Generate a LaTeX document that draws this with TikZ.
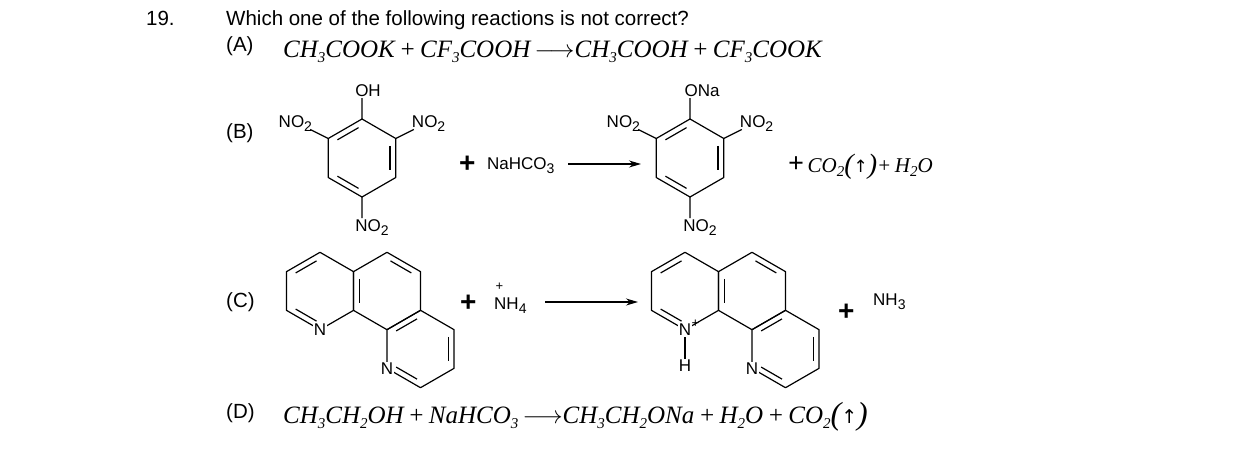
\documentclass[tikz,border=0pt]{standalone}
\usepackage{fontspec}
\setmainfont{Liberation Sans}
\newfontfamily\eqf{Liberation Serif}
\usetikzlibrary{calc,arrows.meta}
\newcommand{\mysb}[1]{\raisebox{-0.45ex}{\fontsize{15}{15}\selectfont #1}}
\newcommand{\lsb}[1]{\raisebox{-0.45ex}{\fontsize{14}{14}\selectfont #1}}
\newcommand{\mkring}[4]{% name cx cy r
  \foreach \k/\t in {1/90,2/30,3/-30,4/-90,5/-150,6/150}{
    \coordinate (#1\k) at ({#2+#4*cos(\t)},{#3-#4*sin(\t)});}
  \coordinate (#1c) at (#2,#3);
  \draw[bond] (#11)--(#12)--(#13)--(#14)--(#15)--(#16)--cycle;}
\newcommand{\dbl}[3]{\draw[bond,shorten <=4pt,shorten >=4pt] ($(#1c)!0.83!(#1#2)$)--($(#1c)!0.83!(#1#3)$);}
\tikzset{bond/.style={line width=1.2pt,line join=round},
  lab/.style={font=\fontsize{17}{17}\selectfont,inner sep=1pt},
  eq/.style={font=\fontsize{25}{27}\selectfont\eqf\itshape,anchor=base west,inner sep=0pt},
  txt/.style={font=\fontsize{20.5}{23}\selectfont,anchor=base west,inner sep=0pt},
  arr/.style={line width=1.2pt,-{Stealth[length=12pt,width=7pt]}}}
\begin{document}
\begin{tikzpicture}[x=1pt,y=-1pt]
\useasboundingbox (0,0) rectangle (1238,471);
\node[txt] (q) at (146,25) {19.};
\node[txt] (qt) at (226,25) {Which one of the following reactions is not correct?};
\node[txt] (la) at (226,51) {(A)};
\node[eq] (ea) at (283,57) {CH\mysb{3}COOK\,+\,CF\mysb{3}COOH\,$\longrightarrow$CH\mysb{3}COOH\,+\,CF\mysb{3}COOK};
\node[txt] (lb) at (226,138) {(B)};
\node[txt] (lc) at (226,307) {(C)};
\node[txt] (ld) at (226,418) {(D)};
% picric acid
\foreach \p/\cx in {L/362,R/690}{
  \mkring{\p}{\cx}{158}{39}
  \dbl{\p}{6}{1}\dbl{\p}{2}{3}\dbl{\p}{4}{5}
  \coordinate (\p t) at ($(\p1)+(0,-21)$);
  \coordinate (\p l) at ($(\p6)+(-18,-9)$);
  \coordinate (\p r) at ($(\p2)+(18,-9)$);
  \coordinate (\p b) at ($(\p4)+(0,21)$);
  \draw[bond] (\p1)--(\p t) (\p6)--(\p l) (\p2)--(\p r) (\p4)--(\p b);
}
\node[lab,anchor=south] (oh) at ($(Lt)+(6,0)$) {OH};
\node[lab,anchor=south] (ona) at ($(Rt)+(12,0)$) {ONa};
\node[lab,anchor=south east] at ($(Ll)+(3,3)$) {NO\lsb{2}};
\node[lab,anchor=south west] at ($(Lr)+(-3,3)$) {NO\lsb{2}};
\node[lab,anchor=north] at ($(Lb)+(10,0)$) {NO\lsb{2}};
\node[lab,anchor=south east] at ($(Rl)+(3,3)$) {NO\lsb{2}};
\node[lab,anchor=south west] at ($(Rr)+(-3,3)$) {NO\lsb{2}};
\node[lab,anchor=north] at ($(Rb)+(10,0)$) {NO\lsb{2}};
\node[txt] (p1) at (459,172) {\textbf{\fontsize{28}{28}\selectfont +}};
\node[lab,anchor=base west] (nahco) at (486,169) {NaHCO\lsb{3}};
\coordinate (a1s) at (568,164); \coordinate (a1e) at (641,164);
\draw[arr] (a1s)--(a1e);
\node[eq,font=\fontsize{21}{24}\selectfont\eqf\itshape] (prb) at (788,172) {{\upshape\textbf{\fontsize{28}{28}\selectfont +}}\,CO\mysb{2}\raisebox{-0.15ex}{\fontsize{28}{28}\selectfont(}{\upshape\fontspec{DejaVu Sans}\fontsize{17}{17}\selectfont ↑}\raisebox{-0.15ex}{\fontsize{28}{28}\selectfont)}+\,H\mysb{2}O};
% phenanthrolines
\foreach \p/\dx in {P/0,Q/365}{
  \mkring{\p A}{320+\dx}{291}{38.7}
  \mkring{\p B}{387+\dx}{291}{38.7}
  \mkring{\p C}{420.5+\dx}{349}{38.7}
  \dbl{\p A}{6}{1}\dbl{\p A}{5}{4}
  \dbl{\p B}{6}{5}\dbl{\p B}{1}{2}
  \dbl{\p C}{6}{1}\dbl{\p C}{2}{3}\dbl{\p C}{5}{4}
  \node[lab,fill=white] (\p n2) at (\p C5) {N};
}
\node[lab,fill=white] (pn1) at (PA4) {N};
\coordinate (qh) at ($(QA4)+(0,36)$);
\draw[bond] (QA4)--(qh);
\node[lab,fill=white] (qn1) at (QA4) {N};
\node[lab,anchor=north west,inner sep=0pt] at ($(qn1.north east)+(-1,-3)$) {\fontsize{13}{13}\selectfont +};
\node[lab,fill=white] (qhh) at (qh) {H};
\node[txt] (p2) at (460,311) {\textbf{\fontsize{28}{28}\selectfont +}};
\node[lab,anchor=base west] (nh4) at (493,309) {NH\lsb{4}};
\node[inner sep=0pt,font=\fontsize{13}{13}\selectfont] at (499.5,287) {+};
\coordinate (a2s) at (545,302); \coordinate (a2e) at (638,302);
\draw[arr] (a2s)--(a2e);
\node[txt] (p3) at (838,320) {\textbf{\fontsize{28}{28}\selectfont +}};
\node[lab,anchor=base west] (nh3) at (872,305) {NH\lsb{3}};
\node[eq] (ed) at (283,423) {CH\mysb{3}CH\mysb{2}OH\,+\,NaHCO\mysb{3}\,$\longrightarrow$CH\mysb{3}CH\mysb{2}ONa\,+\,H\mysb{2}O\,+\,CO\mysb{2}\raisebox{-0.15ex}{\fontsize{32}{32}\selectfont(}{\upshape\fontspec{DejaVu Sans}\fontsize{19}{19}\selectfont ↑}\raisebox{-0.15ex}{\fontsize{32}{32}\selectfont)}};
\end{tikzpicture}
\end{document}
